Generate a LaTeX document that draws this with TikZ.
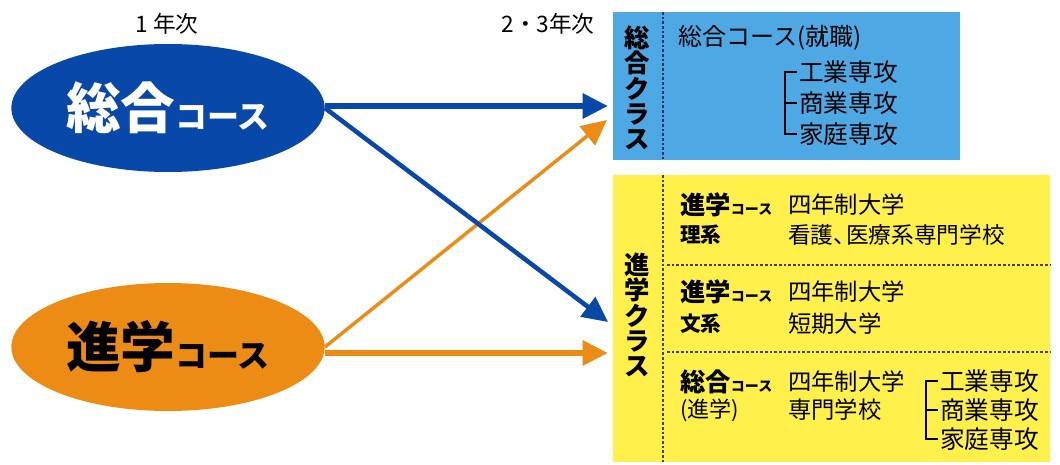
\documentclass[tikz,border=0pt]{standalone}
\usepackage{fontspec}
\setmainfont{Noto Sans CJK JP}
\usepackage{tikz}
\usetikzlibrary{shapes.geometric,arrows.meta,calc}
\definecolor{sogoDark}{RGB}{8,72,168}
\definecolor{sogoLight}{RGB}{78,168,228}
\definecolor{shinOrange}{RGB}{236,140,20}
\definecolor{shinYellow}{RGB}{255,240,75}
\definecolor{divBlue}{RGB}{25,55,110}
\definecolor{divGrey}{RGB}{70,65,40}
\tikzset{
course/.style={ellipse, inner sep=0pt, minimum width=235pt, minimum height=96pt, font=\bfseries}, % the two first-year courses
classbox/.style={rectangle, inner sep=0pt}, % the class panels
txt/.style={anchor=west, inner sep=0pt, font=\fontsize{17.5}{20}\selectfont},
headtxt/.style={anchor=west, inner sep=0pt, font=\bfseries\fontsize{15.5}{18}\selectfont},
vlabel/.style={align=center, inner sep=0pt, font=\bfseries\fontsize{19}{18.9}\selectfont},
divider/.style={line width=1.3pt, dash pattern=on 2pt off 1.5pt},
bracket/.style={line width=1pt},
flow/.style={-{Triangle[length=19pt,width=18pt]}},
}
\newcommand{\smallcourse}{{\fontsize{10.5}{12}\selectfont コース}}

\begin{document}
\begin{tikzpicture}[x=0.75pt,y=0.75pt,yscale=-1,xscale=1]
		\useasboundingbox (0,0) rectangle (1060,464);
		
		% Year headings
		\node (year1) at (167,24) [font=\fontsize{17}{20}\selectfont] {1 年次};
		\node (year23) at (548,24) [font=\fontsize{17}{20}\selectfont] {2・3年次};
		
		% Courses
		\node [course, fill=sogoDark, text=white] (sogo) at (168,108) {{\fontsize{41}{41}\selectfont 総合}{\fontsize{24}{24}\selectfont コース}};
		\node [course, fill=shinOrange, text=black] (shingaku) at (168,347) {{\fontsize{41}{41}\selectfont 進学}{\fontsize{24}{24}\selectfont コース}};
		
		% Class panels
		\node [classbox, fill=sogoLight, minimum width=260.25pt, minimum height=111pt] (sogoclass) at (786.5,86) {};
		\node [classbox, fill=shinYellow, minimum width=327.75pt, minimum height=215.25pt] (shinclass) at (831.5,318.5) {};
		\draw [divider, divBlue] (663,12) -- (663,160);
		\draw [divider, divGrey] (663,175) -- (663,464);
		\draw [divider, divGrey] (667,265) -- (1050,265);
		\draw [divider, divGrey] (667,352) -- (1050,352);
		
		% Vertical labels
		\node [vlabel] (sogolabel) at (637,88) {総\\合\\ク\\ラ\\ス};
		\node [vlabel] (shinlabel) at (637,315) {進\\学\\ク\\ラ\\ス};
		
		% Text Node
		\node [txt, font=\fontsize{18}{20}\selectfont] (shushoku) at (678,38) {総合コース(就職)};
		\node [txt, font=\fontsize{18.5}{20}\selectfont] (kogyoA) at (799,72) {工業専攻};
		\node [txt, font=\fontsize{18.5}{20}\selectfont] (shogyoA) at (799,103) {商業専攻};
		\node [txt, font=\fontsize{18.5}{20}\selectfont] (kateiA) at (799,134) {家庭専攻};
		\draw [bracket] ([xshift=-1.5pt]kogyoA.west) -- ++(-9pt,0) |- ([xshift=-1.5pt]kateiA.west);
		\draw [bracket] ([xshift=-1.5pt]shogyoA.west) -- ++(-9pt,0);
		
		% Text Node
		\node [headtxt] (rikeiA) at (680,205) {{\fontsize{19}{20}\selectfont 進学}\smallcourse};
		\node [headtxt] (rikeiB) at (680,235) {理系};
		\node [txt] (rikeiC) at (788,205) {四年制大学};
		\node [txt, font=\fontsize{17}{20}\selectfont] (rikeiD) at (788,235) {看護、\kern-0.45em 医療系専門学校};
		
		% Text Node
		\node [headtxt] (bunkeiA) at (680,292) {{\fontsize{19}{20}\selectfont 進学}\smallcourse};
		\node [headtxt] (bunkeiB) at (680,324) {文系};
		\node [txt] (bunkeiC) at (788,292) {四年制大学};
		\node [txt] (bunkeiD) at (788,324) {短期大学};
		
		% Text Node
		\node [headtxt] (shinroA) at (680,382) {{\fontsize{19}{20}\selectfont 総合}\smallcourse};
		\node [headtxt, font=\fontsize{16.5}{18}\selectfont] (shinroB) at (680,410) {(進学)};
		\node [txt] (shinroC) at (788,382) {四年制大学};
		\node [txt] (shinroD) at (788,410) {専門学校};
		\node [txt, font=\fontsize{18.5}{20}\selectfont] (kogyoB) at (940,381) {工業専攻};
		\node [txt, font=\fontsize{18.5}{20}\selectfont] (shogyoB) at (940,410) {商業専攻};
		\node [txt, font=\fontsize{18.5}{20}\selectfont] (kateiB) at (940,439) {家庭専攻};
		\draw [bracket] ([xshift=-1.5pt]kogyoB.west) -- ++(-9pt,0) |- ([xshift=-1.5pt]kateiB.west);
		\draw [bracket] ([xshift=-1.5pt]shogyoB.west) -- ++(-9pt,0);
		
		% Arrows
		\coordinate (toSogoA) at (608,106);
		\coordinate (toShinA) at (608,322);
		\coordinate (toSogoB) at (607,120);
		\coordinate (toShinB) at (608,353);
		\draw [flow, shinOrange, line width=2.6pt] (shingaku.east) -- (toSogoB);
		\draw [flow, shinOrange, line width=4.5pt] (shingaku.east |- toShinB) -- (toShinB);
		\draw [flow, sogoDark, line width=4.5pt] (sogo.east |- toSogoA) -- (toSogoA);
		\draw [flow, sogoDark, line width=3.4pt] (sogo.east) -- (toShinA);
		
\end{tikzpicture}
\end{document}
